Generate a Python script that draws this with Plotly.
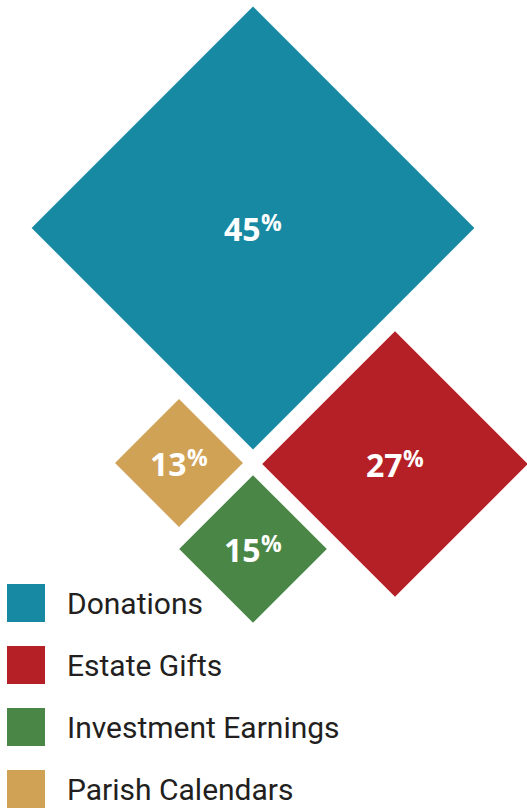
import plotly.graph_objects as go

# ---- data ----
categories = ["Donations", "Estate Gifts", "Investment Earnings", "Parish Calendars"]
values = [45, 27, 15, 13]

# ---- styles / layout ----
colors = ["#1789A2", "#B51F26", "#4A8746", "#D0A255"]
W, H = 527, 810
# packed layout centres of the diamonds (pixel space)
cx = [253, 395, 253, 179]
cy = [228, 464, 549, 463]
px_per_pct = 4.92 / 0.65          # marker diameter per percentage point
legend_x0, legend_y0, legend_step = 26, 603, 62
legend_text_x = 65
label_split = 9      # x offset where the digits end and the % sign starts
pct_rise = 6         # % sign raised so its top aligns with the digits' top

fig = go.Figure()

fig.add_trace(go.Scatter(
    x=cx, y=cy, mode="markers",
    marker=dict(symbol="diamond", size=values, sizemode="diameter",
                sizeref=1 / px_per_pct, color=colors, line=dict(width=0), opacity=1),
    hoverinfo="skip", cliponaxis=False, showlegend=False,
))

for i, v in enumerate(values):
    fig.add_annotation(
        x=cx[i] + label_split, y=cy[i], xref="x", yref="y", showarrow=False,
        text=f"{v}", xanchor="right", yanchor="middle", borderpad=0,
        font=dict(family="Open Sans", size=32, color="white", weight="bold"),
    )
    fig.add_annotation(
        x=cx[i] + label_split - 2, y=cy[i] - pct_rise, xref="x", yref="y", showarrow=False,
        text="%", xanchor="left", yanchor="middle", borderpad=0,
        font=dict(family="Open Sans", size=23, color="white", weight="bold"),
    )

# legend
ly = [legend_y0 + legend_step * i for i in range(len(categories))]
fig.add_trace(go.Scatter(
    x=[legend_x0] * len(categories), y=ly, mode="markers",
    marker=dict(symbol="square", size=38, color=colors, line=dict(width=0)),
    hoverinfo="skip", cliponaxis=False, showlegend=False,
))
for i, c in enumerate(categories):
    fig.add_annotation(
        x=legend_text_x, y=ly[i], xref="x", yref="y", showarrow=False,
        text=c, xanchor="left", yanchor="middle",
        font=dict(family="Roboto", size=30, color="#231F20"),
    )

fig.update_layout(
    width=W, height=H, margin=dict(l=0, r=0, t=0, b=0),
    paper_bgcolor="white", plot_bgcolor="white", showlegend=False,
    xaxis=dict(range=[0, W], visible=False, fixedrange=True),
    yaxis=dict(range=[H, 0], visible=False, fixedrange=True),
    hovermode=False,
)

fig.write_html("out.html", config={"displayModeBar": False},
               post_script="document.body.style.margin='0';document.body.style.overflow='hidden';")
